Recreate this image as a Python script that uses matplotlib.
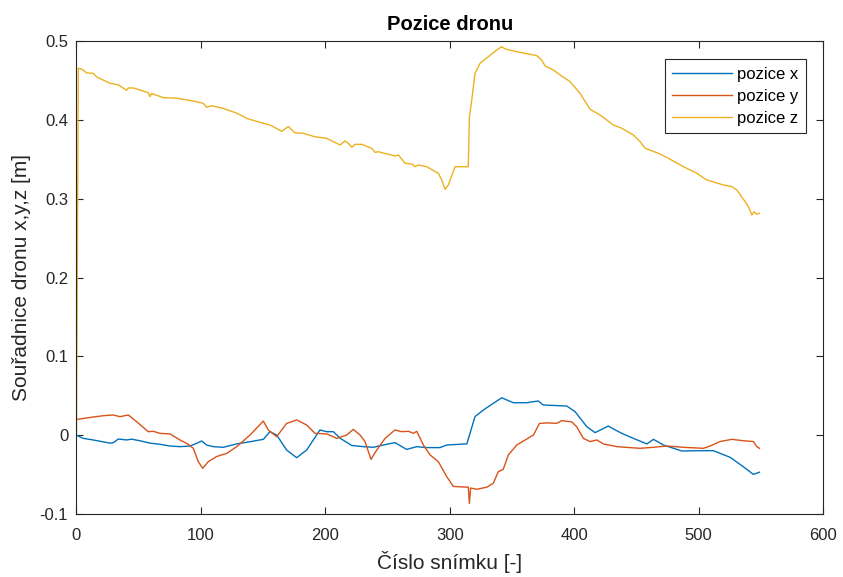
import numpy as np
import matplotlib
matplotlib.use("Agg")
import matplotlib.pyplot as plt

plt.rcParams['font.family'] = ['Liberation Sans', 'DejaVu Sans']

# frame numbers / values
fx = [0, 5.5, 13.5, 26.9, 29.6, 33.6, 40.3, 44.3, 51, 59, 67.1, 75.2, 83.2, 91.2, 96.6,
      100.6, 104.6, 110, 118, 128.8, 139.5, 150.2, 155.5, 160.9, 168.9, 177, 185, 195.7,
      201.1, 206.5, 211.8, 221.2, 230.6, 238.6, 246.6, 256, 265.4, 273.5, 281.5, 292.2,
      297.6, 313.7, 315, 320.3, 327, 335, 341.8, 345.8, 351.1, 361.9, 371.2, 375.2, 394,
      400.7, 410.1, 416.8, 427.5, 431.5, 438.3, 447.6, 458.4, 463.7, 471.7, 486.5, 501.2,
      511.9, 525.3, 536, 544, 548.9]
px = [0.0, -0.004, -0.006, -0.010, -0.0095, -0.0048, -0.006, -0.005, -0.007, -0.010,
      -0.0115, -0.0137, -0.0145, -0.0137, -0.0103, -0.0073, -0.0124, -0.0145, -0.0153,
      -0.011, -0.0082, -0.0052, 0.0045, 0.0003, -0.0188, -0.0285, -0.0188, 0.0067, 0.0045,
      0.0045, -0.0037, -0.013, -0.0145, -0.0153, -0.0124, -0.0094, -0.018, -0.0145, -0.0157,
      -0.0157, -0.0124, -0.011, -0.0045, 0.0237, 0.032, 0.0405, 0.0476, 0.0448, 0.0413,
      0.0413, 0.0435, 0.0384, 0.0371, 0.030, 0.0109, 0.0033, 0.0117, 0.008, 0.0024, -0.004,
      -0.011, -0.0052, -0.0124, -0.020, -0.0196, -0.0196, -0.028, -0.040, -0.0497, -0.047]

fy = [0, 8.2, 21.5, 29.6, 35, 41.7, 48.4, 57.7, 61.7, 67.1, 75.2, 83.2, 89.9, 93.9, 97.9,
      101.4, 106, 112.7, 120.8, 128.8, 139.5, 150.2, 154.2, 160.9, 168.9, 177, 185, 191.7,
      201.1, 209.2, 217.2, 222.5, 227.9, 231.9, 236.7, 241.3, 248, 256, 261.4, 266.8, 270.8,
      273.5, 278.8, 284.2, 290.8, 297.6, 302.9, 314.9, 315.8, 316.8, 321.7, 329.8, 335, 339,
      343, 347.1, 353.9, 367.3, 372.1, 378, 386, 390, 398, 402, 407.4, 412.8, 418.2, 423.5,
      434.2, 452.9, 463.7, 474.4, 487.8, 503.9, 509.2, 517.2, 526.7, 536, 544, 546.8, 548.9]
py = [0.020, 0.022, 0.0248, 0.0257, 0.0236, 0.0257, 0.0172, 0.0045, 0.005, 0.0024, 0.0017,
      -0.006, -0.0115, -0.0166, -0.0335, -0.042, -0.0335, -0.027, -0.023, -0.0145, 0.0003,
      0.018, 0.0067, -0.0018, 0.015, 0.0194, 0.013, 0.0024, 0.0017, -0.004, 0.0003, 0.0075,
      0.0003, -0.008, -0.0306, -0.0188, -0.004, 0.0067, 0.0045, 0.005, 0.0024, 0.005,
      -0.0124, -0.025, -0.0335, -0.0526, -0.065, -0.066, -0.0865, -0.067, -0.0686, -0.066,
      -0.061, -0.0463, -0.0433, -0.025, -0.0124, 0.0003, 0.015, 0.0157, 0.0151, 0.0185,
      0.017, 0.0109, -0.004, -0.008, -0.006, -0.011, -0.0145, -0.0166, -0.0153, -0.0137,
      -0.0153, -0.0166, -0.0137, -0.008, -0.0052, -0.007, -0.008, -0.0145, -0.0166]

fz = [0, 1.5, 4.2, 8.2, 13.5, 16.2, 26.9, 33.6, 40.3, 41.7, 45.7, 57.7, 59, 60.4, 69.8,
      80.5, 93.9, 101.9, 104.6, 108.7, 118, 128.8, 136.8, 139.5, 146.1, 155.5, 164.9, 170.3,
      175.6, 182.3, 191.7, 201.1, 211.8, 215.8, 218.5, 221.2, 223.9, 229.3, 237.3, 240,
      242.6, 256, 258.7, 264.1, 269.5, 272.1, 274.8, 281.5, 290.8, 293.6, 296.2, 298.9,
      304.3, 314.9, 315.8, 317.7, 320.3, 324.4, 331, 337.8, 341.8, 344.5, 353.9, 364.5,
      369.9, 373.9, 376.6, 383.3, 388.7, 396.7, 404.7, 412.8, 420.8, 431.5, 438.3, 447.6,
      453, 457, 467.7, 475.7, 487.8, 498.6, 506.6, 520, 526.7, 530.7, 537.4, 540.1, 542.8,
      544.6, 546.8, 548.9]
pz = [0.0, 0.466, 0.465, 0.460, 0.4596, 0.455, 0.447, 0.445, 0.438, 0.441, 0.441, 0.435,
      0.430, 0.434, 0.4287, 0.428, 0.4244, 0.4215, 0.4165, 0.4185, 0.415, 0.409, 0.4025,
      0.401, 0.398, 0.394, 0.386, 0.392, 0.384, 0.3834, 0.379, 0.377, 0.3686, 0.3737,
      0.3707, 0.3656, 0.3694, 0.3694, 0.3643, 0.3593, 0.360, 0.3546, 0.3559, 0.3453,
      0.3444, 0.341, 0.3432, 0.341, 0.3326, 0.3241, 0.3123, 0.3178, 0.341, 0.341, 0.4045,
      0.4257, 0.4596, 0.4723, 0.4807, 0.4892, 0.4934, 0.4905, 0.487, 0.4837, 0.482,
      0.4765, 0.4689, 0.4638, 0.4575, 0.449, 0.4342, 0.4139, 0.4067, 0.394, 0.3898,
      0.3813, 0.3728, 0.3644, 0.358, 0.3517, 0.341, 0.3326, 0.3241, 0.3178, 0.3157,
      0.3115, 0.2966, 0.2902, 0.2797, 0.2839, 0.2806, 0.2818]

fig = plt.figure(figsize=(8.43, 5.77), dpi=100)
ax = fig.add_axes([0.0907, 0.1092, 0.8856, 0.8189])

ax.plot(fx, px, color='#0072BD', lw=1.0, label='pozice x')
ax.plot(fy, py, color='#D95319', lw=1.0, label='pozice y')
ax.plot(fz, pz, color='#EDB120', lw=1.0, label='pozice z')

ax.set_xlim(0, 600)
ax.set_ylim(-0.1, 0.5)
ax.set_xticks(np.arange(0, 601, 100))
ax.set_yticks(np.arange(-0.1, 0.51, 0.1))
ax.set_yticklabels(['-0.1', '0', '0.1', '0.2', '0.3', '0.4', '0.5'])
ax.tick_params(direction='in', top=True, right=True, length=5, width=0.8,
               labelsize=12, colors='#262626')
ax.tick_params(axis='x', pad=10)
ax.tick_params(axis='y', pad=6)
for s in ax.spines.values():
    s.set_color('#262626')
    s.set_linewidth(0.8)

ax.set_title('Pozice dronu', fontsize=14.5, fontweight='bold', pad=8)
ax.set_xlabel('Číslo snímku [-]', fontsize=15, color='#262626', labelpad=6)
ax.set_ylabel('Souřadnice dronu x,y,z [m]', fontsize=15, color='#262626', labelpad=6)

leg = ax.legend(loc='upper right', bbox_to_anchor=(0.9772, 0.9623), borderaxespad=0,
                fancybox=False, framealpha=1, edgecolor='#262626', fontsize=12,
                handlelength=3.6, borderpad=0.45, labelspacing=0.42, handletextpad=0.3)
leg.get_frame().set_linewidth(0.8)

fig.savefig('out.png', dpi=100)
